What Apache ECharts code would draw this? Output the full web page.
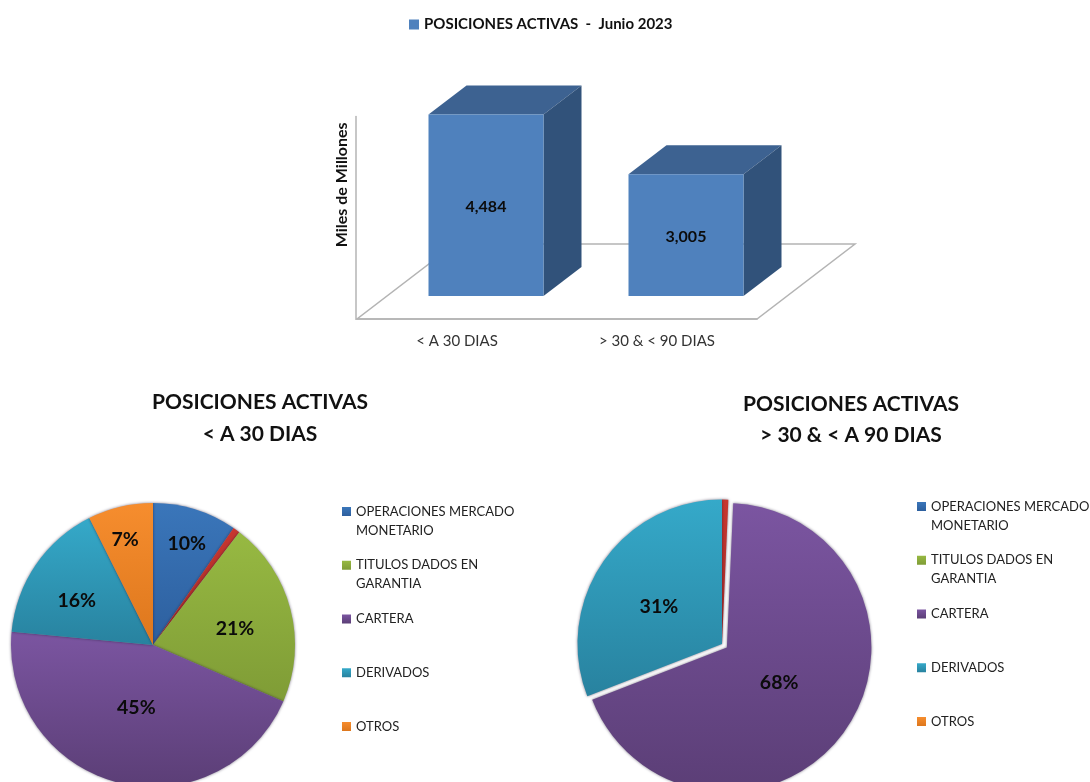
<!DOCTYPE html>
<html><head><meta charset="utf-8">
<script src="https://cdn.jsdelivr.net/npm/echarts@6/dist/echarts.min.js"></script>
<style>html,body{margin:0;padding:0;background:#fff}#c{width:1090px;height:782px}</style></head>
<body><div id="c"></div>
<script>
const FONT = 'Lato';
const barName = 'POSICIONES ACTIVAS  -  Junio 2023';
const barCategories = ['< A 30 DIAS', '> 30 & < 90 DIAS'];
const barValues = [4484, 3005];
const axisName = 'Miles de Millones';

const pieNames = ['OPERACIONES MERCADO MONETARIO', 'OTRO SIN LEYENDA', 'TITULOS DADOS EN GARANTIA', 'CARTERA', 'DERIVADOS', 'OTROS'];
const legendNames = ['OPERACIONES MERCADO MONETARIO', 'TITULOS DADOS EN GARANTIA', 'CARTERA', 'DERIVADOS', 'OTROS'];
const pie1Values = [9.6, 0.8, 21.1, 45, 16.1, 7.4];
const pie2Values = [0, 0.7, 0, 68.4, 30.9, 0];
const pie1Title = 'POSICIONES ACTIVAS\n< A 30 DIAS';
const pie2Title = 'POSICIONES ACTIVAS\n> 30 & < A 90 DIAS';

const legendLines = {
  'OPERACIONES MERCADO MONETARIO': ' \nOPERACIONES MERCADO\nMONETARIO',
  'TITULOS DADOS EN GARANTIA': ' \nTITULOS DADOS EN\nGARANTIA',
  'CARTERA': ' \nCARTERA\n ', 'DERIVADOS': ' \nDERIVADOS\n ', 'OTROS': ' \nOTROS\n '
};
const sliceColors = [['#3a76ba','#2d5f9e'],['#c8362f','#a32a26'],['#97b942','#7f9c36'],['#7b55a1','#5b3e76'],['#35a9c9','#28829f'],['#f68d2e','#dd771d']];
const grad = c => new echarts.graphic.LinearGradient(0,0,0,1,[{offset:0,color:c[0]},{offset:1,color:c[1]}]);

function pieSeries(values, o){
  const total = values.reduce((a,b)=>a+b,0);
  const mids = []; let run = 0;
  values.forEach(v=>{ mids.push((run+v/2)/total*2*Math.PI + (90-o.startAngle)*Math.PI/180); run += v; });
  return {
    type:'pie', center:o.center, radius:[0,o.r], startAngle:o.startAngle, clockwise:true,
    selectedMode:o.selected!=null?'multiple':false, selectedOffset:o.offset||0,
    avoidLabelOverlap:false, legendHoverLink:false, silent:true,
    data:values.map((v,i)=>({name:pieNames[i], value:v, selected:i===o.selected,
      itemStyle:{color:grad(sliceColors[i])}})),
    itemStyle:{shadowBlur:3, shadowColor:'rgba(30,20,50,0.6)', borderWidth:0},
    label:{show:true, position:'inside', color:'#0b0b0b', fontFamily:FONT, fontWeight:'bold', fontSize:19.5,
      formatter:p=> (p.name===pieNames[1]||p.value===0)?'':Math.round(p.value)+'%'},
    labelLine:{show:false},
    labelLayout:p=>{
      const f=(o.labelShare[p.dataIndex]||0.5)-0.5, a=mids[p.dataIndex], n=o.nudge[p.dataIndex]||[0,0];
      return {dx:f*o.r*Math.sin(a)+n[0], dy:-f*o.r*Math.cos(a)+n[1]};
    },
    emphasis:{disabled:true}
  };
}
const pieLegend = (left,top) => ({
  left, top, orient:'vertical', data:legendNames, selectedMode:false, itemGap:-3.25, itemWidth:9, itemHeight:9, icon:'rect',
  padding:0, inactiveColor:'#222', itemStyle:{borderWidth:0},
  formatter:n=>legendLines[n],
  textStyle:{fontFamily:FONT, fontSize:13, color:'#222', lineHeight:19}
});

const chart = echarts.init(document.getElementById('c'));
chart.setOption({
  animation:false, backgroundColor:'#fff',
  title:[
    {text:pie1Title,left:255,top:381,textAlign:'center',textStyle:{fontFamily:FONT,fontSize:21,fontWeight:'bold',color:'#111',lineHeight:32}},
    {text:pie2Title,left:846,top:384,textAlign:'center',textStyle:{fontFamily:FONT,fontSize:21,fontWeight:'bold',color:'#111',lineHeight:31}}
  ],
  legend:[
    {left:409,top:17,data:[barName],selectedMode:false,itemWidth:10,itemHeight:10,icon:'rect',padding:0,
      textStyle:{fontFamily:FONT,fontSize:15,fontWeight:'bold',color:'#111'}},
    pieLegend(342,483),
    pieLegend(917,478)
  ],
  grid:{left:357,top:116.6,width:400,height:202.4},
  xAxis:{type:'category',data:barCategories,axisTick:{show:false},
    axisLine:{lineStyle:{color:'#b4b4b4',width:1.5}},
    axisLabel:{margin:15,fontFamily:FONT,fontSize:15,color:'#333'}},
  yAxis:{type:'value',min:0,max:5000,splitLine:{show:false},axisTick:{show:false},axisLabel:{show:false},offset:1,
    axisLine:{show:true,lineStyle:{color:'#b4b4b4',width:1.5}},
    name:axisName,nameLocation:'middle',nameGap:6,nameRotate:90,
    nameTextStyle:{fontFamily:FONT,fontSize:16,fontWeight:'bold',color:'#111',padding:[0,0,0,66]}},
  series:[
    {type:'custom',name:'piso',coordinateSystem:'cartesian2d',silent:true,z:1,data:[[0,0]],
      renderItem:(p,api)=>{
        const r=p.coordSys, bx=r.x, by=r.y+r.height, dx=98, dy=-75;
        return {type:'polygon',shape:{points:[[bx,by],[bx+r.width,by],[bx+r.width+dx,by+dy],[bx+dx,by+dy]]},
          style:{fill:'none',stroke:'#b4b4b4',lineWidth:1.5}};
      }},
    {type:'custom',name:barName,coordinateSystem:'cartesian2d',silent:true,z:3,
      itemStyle:{color:'#4f81bd'},
      data:barValues.map((v,i)=>[i,v]),
      renderItem:(p,api)=>{
        const t=api.coord([api.value(0),api.value(1)]), b=api.coord([api.value(0),0]);
        const w=115, sx=29, sy=-23, ox=38, oy=-29;
        const x0=t[0]+sx-w/2, x1=x0+w, y0=t[1]+sy, y1=b[1]+sy;
        return {type:'group',children:[
          {type:'polygon',shape:{points:[[x0,y0],[x0+ox,y0+oy],[x1+ox,y0+oy],[x1,y0]]},style:{fill:'#3d6291'}},
          {type:'polygon',shape:{points:[[x1,y0],[x1+ox,y0+oy],[x1+ox,y1+oy],[x1,y1]]},style:{fill:'#31527a'}},
          {type:'rect',shape:{x:x0,y:y0,width:w,height:y1-y0},style:{fill:'#4f81bd'}},
          {type:'text',style:{x:(x0+x1)/2,y:(y0+y1)/2+2,text:api.value(1).toLocaleString('en-US'),align:'center',verticalAlign:'middle',
            fontFamily:FONT,fontSize:16,fontWeight:'bold',fill:'#0b0b0b'}}
        ]};
      }},
    pieSeries(pie1Values,{center:[153,645],r:142,startAngle:90,labelShare:[0.755,0.5,0.59,0.45,0.63,0.77],
      nudge:[[1,4],[0,0],[-2,6],[0,-2],[0,8],[-2,4]]}),
    pieSeries(pie2Values,{center:[722,644],r:144.5,startAngle:90,selected:3,offset:6,labelShare:[0.5,0.5,0.5,0.45,0.5,0.5],
      nudge:[[0,0],[0,0],[0,0],[-3,-4],[-1,5],[0,0]]})
  ]
});
</script></body></html>
